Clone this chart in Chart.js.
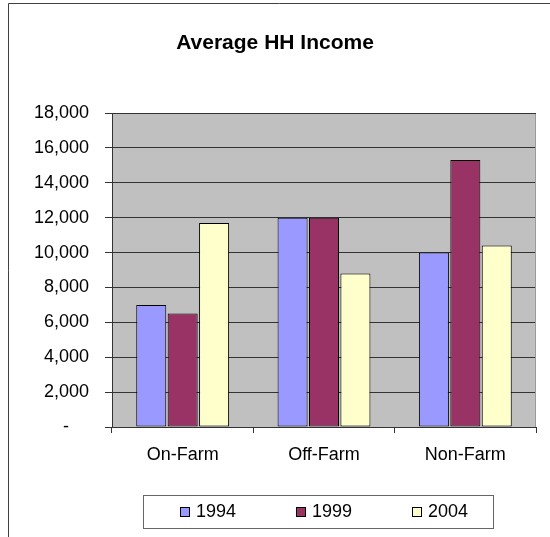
<!DOCTYPE html>
<html>
<head>
<meta charset="utf-8">
<script src="https://cdn.jsdelivr.net/npm/chart.js@4/dist/chart.umd.min.js"></script>
<style>
  html, body { margin: 0; padding: 0; background: #ffffff; }
  #wrap { width: 550px; height: 537px; position: relative; }
</style>
</head>
<body>
<div id="wrap"><canvas id="c" width="550" height="537"></canvas></div>
<script>
const categories = ['On-Farm', 'Off-Farm', 'Non-Farm'];
const seriesNames = ['1994', '1999', '2004'];
const values1994 = [7000, 12000, 10000];
const values1999 = [6500, 12000, 15300];
const values2004 = [11700, 8800, 10400];
const yTicks = [0, 2000, 4000, 6000, 8000, 10000, 12000, 14000, 16000, 18000];
const chartTitle = 'Average HH Income';

const colors = ['#9999FF', '#993366', '#FFFFCC'];
const FONT = "'Liberation Sans', Arial, Helvetica, sans-serif";

const framePlugin = {
  id: 'frame',
  beforeDraw(chart) {
    const ctx = chart.ctx, a = chart.chartArea;
    ctx.save();
    ctx.fillStyle = '#C0C0C0';
    ctx.fillRect(a.left, a.top, a.right - a.left, a.bottom - a.top);
    ctx.strokeStyle = '#404040';
    ctx.lineWidth = 1;
    ctx.beginPath();
    ctx.moveTo(8.5, 537);
    ctx.lineTo(8.5, 3.5);
    ctx.lineTo(550, 3.5);
    ctx.stroke();
    ctx.restore();
  },
  afterDraw(chart) {
    const ctx = chart.ctx, a = chart.chartArea;
    ctx.save();
    // light right edge of plot area
    ctx.strokeStyle = '#9a9a9a';
    ctx.lineWidth = 1;
    ctx.beginPath();
    ctx.moveTo(Math.round(a.right) - 0.5, a.top + 1);
    ctx.lineTo(Math.round(a.right) - 0.5, a.bottom);
    ctx.stroke();

    // legend
    const ds = chart.data.datasets;
    const spacing = 116;
    const cx = (a.left + a.right) / 2;
    const firstX = Math.round(cx - spacing * (ds.length - 1) / 2 - 28);
    const cy = 512;
    ctx.strokeStyle = '#666666';
    ctx.strokeRect(firstX - 36.5, cy - 16.5, (spacing * (ds.length - 1)) + 36 + 82, 33);
    ctx.font = "18px " + FONT;
    ctx.textBaseline = 'middle';
    ctx.textAlign = 'left';
    ds.forEach((d, i) => {
      const x = firstX + i * spacing;
      ctx.fillStyle = d.backgroundColor;
      ctx.fillRect(x + 0.5, cy - 4.5, 9, 9);
      ctx.strokeStyle = '#000000';
      ctx.strokeRect(x + 0.5, cy - 4.5, 9, 9);
      ctx.fillStyle = '#000000';
      ctx.fillText(d.label, x + 16, cy);
    });
    ctx.restore();
  }
};

const seriesValues = [values1994, values1999, values2004];
const datasets = seriesNames.map((name, i) => ({
  label: name,
  data: seriesValues[i],
  backgroundColor: colors[i],
  borderColor: '#000000',
  borderWidth: 1,
  borderSkipped: false,
  categoryPercentage: 0.667,
  barPercentage: 0.955
}));

new Chart(document.getElementById('c'), {
  type: 'bar',
  data: { labels: categories, datasets },
  plugins: [framePlugin],
  options: {
    responsive: false,
    animation: false,
    layout: { padding: { left: 0, right: 0, top: 0, bottom: 60 } },
    plugins: {
      title: {
        display: true,
        text: chartTitle,
        color: '#000000',
        font: { family: FONT, size: 21, weight: 'bold' },
        padding: { top: 30.4, bottom: 57.4 }
      },
      legend: { display: false },
      tooltip: { enabled: false }
    },
    scales: {
      x: {
        offset: true,
        grid: {
          display: true,
          drawOnChartArea: false,
          offset: true,
          tickLength: 6,
          color: '#333333'
        },
        border: { display: true, color: '#333333' },
        ticks: {
          color: '#000000',
          font: { family: FONT, size: 18 },
          padding: 11,
          maxRotation: 0
        },
        afterFit(scale) { scale.height = 50; }
      },
      y: {
        min: yTicks[0],
        max: yTicks[yTicks.length - 1],
        afterBuildTicks(scale) { scale.ticks = yTicks.map(v => ({ value: v })); },
        grid: { color: '#333333', tickLength: 7, lineWidth: 1 },
        border: { display: true, color: '#333333' },
        ticks: {
          color: '#000000',
          font: { family: FONT, size: 18 },
          padding: 16,
          callback: (v) => v === 0 ? '-    ' : Number(v).toLocaleString('en-US')
        },
        afterFit(scale) { scale.width = 112; }
      },
      yRight: {
        position: 'right',
        display: true,
        grid: { display: false },
        border: { display: false },
        ticks: { display: false },
        afterFit(scale) { scale.width = 14; }
      }
    }
  }
});
</script>
</body>
</html>
